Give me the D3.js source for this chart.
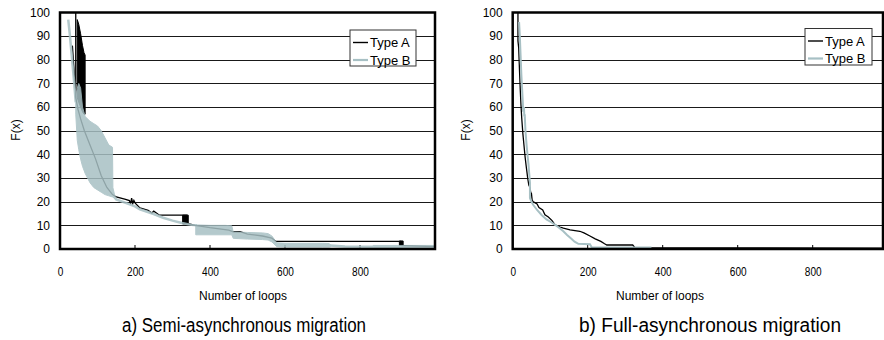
<!DOCTYPE html>
<html><head><meta charset="utf-8">
<script src="https://cdn.jsdelivr.net/npm/d3@7"></script>
<style>
html,body{margin:0;padding:0;background:#fff;}
svg{display:block;}
</style></head>
<body>
<svg id="chart" width="884" height="340"></svg>
<script>
// ---------- data ----------
const seriesNames = ["Type A", "Type B"];
const panelTitles = ["a) Semi-asynchronous migration", "b) Full-asynchronous migration"];
const xAxisTitle = "Number of loops";
const yAxisTitle = "F(x)";
const xTicks = [0, 200, 400, 600, 800];
const yTicks = [0, 10, 20, 30, 40, 50, 60, 70, 80, 90, 100];
const gridValues = [10, 20, 30, 40, 50, 60, 70, 80, 90];

// Semi-asynchronous: Type A polylines [x, F]
const semiALines = [
  [[33,86],[36,79],[39,72],[42,67]],
  [[42,100],[42,64],[48,59],[55,55],[65,50],[80,44],[95,38],[110,31],[125,26],[140,23],[150,22],[175,21],
   [185,20.5],[188,19],[191,21.5],[194,19.2],[197,20.5],[200,19.5],[213,17.4],[235,16.3],[245,15.2],[250,16],[258,15.1],[265,14.3],[340,14.3]],
  [[340,10.8],[360,10],[400,9],[450,8],[462,7.3],[480,7.3],[500,6.3],[540,5.5],[565,4.6],[576,3.2],[910,3.2]],
  [[910,1.4],[1000,1]]
];
// Semi-asynchronous: Type A oscillation bands [x, low, high]
const semiABands = [
  [[46,64,97],[50,62,95],[55,60,91],[60,58,86],[64,57,83],[67,57,82]],
  [[327,10.6,14.3],[342,10.6,14.3]],
  [[905,1.5,3.4],[915,1.5,3.4]]
];
// Semi-asynchronous: Type B polylines [x, F]
const semiBLines = [
  [[22,97],[26,91],[30,84],[34,77],[38,70],[42,62]],
  [[140,23],[150,21],[175,19.5],[200,18],[213,16.8],[250,14.8],[275,13.2],[300,12],[325,11],[350,10.2],[365,10]],
  [[720,1.5],[760,1.1],[835,0.9]]
];
// Semi-asynchronous: Type B oscillation bands [x, low, high]
const semiBBands = [
  [[42,57,62],[46,46,68],[50,42,70],[55,38,68],[60,35,60],[67,32,56],[80,28,54],[90,26,53],[100,25,52],
   [110,24,50],[120,23,47],[130,22.5,44],[140,22,43],[141,22,26],[146,21.3,22.5]],
  [[362,6,10.2],[400,6,10],[440,6,10],[458,6,9.8],[462,4.5,7.2],[500,4.2,7],[540,4,6.8],[555,3.8,6.5],
   [565,3,5.5],[578,1,2.6],[600,0.8,2.4],[700,0.8,2.4],[718,0.8,2.3],[722,1,1.6]],
  [[835,0.3,1.5],[1000,0.3,1.5]]
];

// Full-asynchronous: Type A [x, F]
const fullA = [[14,100],[14,88],[16,85],[18,76],[20,68],[22,61],[24,55.5],[27,49],[30,44],[33,39],[36,35],
  [40,30],[43,27],[46,26],[48,24],[50,23.5],[52,20.5],[55,20],[60,19.5],[65,19],[70,17.5],[80,16.5],[86,14.5],
  [95,13.5],[105,12],[113,10.2],[126,9.3],[135,8.8],[153,8.1],[179,7.5],[190,6.8],[206,5.5],[220,4.3],
  [235,3.2],[245,2.2],[251,1.7],[320,1.7],[326,0.6],[1000,0.4]];
// Full-asynchronous: Type B [x, F]
const fullB = [[17,96],[19,90],[21,82],[23,74],[25,68],[27,62],[28,58],[30,60],[31,56],[32,57],[34,50],
  [37,44],[40,39],[42,36],[44,32],[46,28],[46,21.5],[50,20],[55,18.6],[65,16.5],[77,14.4],[90,12.5],
  [104,11.2],[115,10],[122,9.2],[135,7.5],[145,5.9],[155,4.5],[165,3.1],[175,2.2],[206,2],[211,0.6],[370,0.6]];

// ---------- drawing ----------
const colA = "#000000";
const colB = "#a7c0c4";
const svg = d3.select("#chart");
const sans = "'Liberation Sans',Arial,sans-serif";

const panels = [
  {x0: 60, x1: 435, frameRight: 435, id: "a", titleX: 244, titleW: 244, axTitleX: 243, fxX: 17,
   legX: 350, legW: 66, legY: 30, legH: 36,
   aLines: semiALines, aBands: semiABands, bLines: semiBLines, bBands: semiBBands, bWidth: 2.5},
  {x0: 512.7, x1: 887.7, frameRight: 883, id: "b", titleX: 710, titleW: 262, axTitleX: 660, fxX: 467,
   legX: 805, legW: 67, legY: 28.5, legH: 36.5,
   aLines: [fullA], aBands: [], bLines: [fullB], bBands: [], bWidth: 2}
];
const yTop = 12.5, yBot = 249;

panels.forEach((p, i) => {
  const x = d3.scaleLinear().domain([0, 1000]).range([p.x0, p.x1]);
  const y = d3.scaleLinear().domain([0, 100]).range([yBot, yTop]);
  const g = svg.append("g");

  g.append("clipPath").attr("id", "clip" + p.id)
    .append("rect").attr("x", p.x0).attr("y", yTop).attr("width", p.frameRight - p.x0).attr("height", yBot - yTop);

  // grid
  g.selectAll("line.grid").data(gridValues).enter().append("line")
    .attr("x1", p.x0).attr("x2", p.frameRight)
    .attr("y1", d => Math.round(y(d)) + 0.5).attr("y2", d => Math.round(y(d)) + 0.5)
    .attr("stroke", "#1a1a1a").attr("stroke-width", 1);

  // small tick marks
  g.selectAll("line.tk").data(xTicks.slice(1)).enter().append("line")
    .attr("x1", d => x(d)).attr("x2", d => x(d)).attr("y1", yBot).attr("y2", yBot - 4)
    .attr("stroke", "#000").attr("stroke-width", 1);

  const data = g.append("g").attr("clip-path", `url(#clip${p.id})`);
  const line = d3.line().x(d => x(d[0])).y(d => y(d[1]));
  const area = d3.area().x(d => x(d[0])).y0(d => y(d[1])).y1(d => y(d[2]));

  // Type A
  p.aBands.forEach(b => data.append("path").attr("d", area(b)).attr("fill", colA).attr("stroke", colA).attr("stroke-width", 1));
  p.aLines.forEach(l => data.append("path").attr("d", line(l)).attr("fill", "none").attr("stroke", colA).attr("stroke-width", 1.3));
  // Type B
  const gb = data.append("g").attr("opacity", p.id === "a" ? 0.85 : 1);
  p.bBands.forEach(b => gb.append("path").attr("d", area(b)).attr("fill", colB).attr("stroke", colB).attr("stroke-width", 1));
  p.bLines.forEach(l => gb.append("path").attr("d", line(l)).attr("fill", "none").attr("stroke", colB).attr("stroke-width", p.bWidth));

  // frame
  g.append("rect").attr("x", p.x0).attr("y", yTop).attr("width", p.frameRight - p.x0).attr("height", yBot - yTop)
    .attr("fill", "none").attr("stroke", "#000").attr("stroke-width", 2.5);

  // axes
  const ya = g.append("g").attr("transform", `translate(${p.x0},0)`)
    .call(d3.axisLeft(y).tickValues(yTicks).tickSize(0).tickPadding(10));
  ya.select(".domain").remove();
  ya.selectAll("text").attr("font-family", sans).attr("font-size", 12).attr("fill", "#000");

  const xa = g.append("g").attr("transform", `translate(0,${yBot})`)
    .call(d3.axisBottom(x).tickValues(xTicks).tickSize(0).tickPadding(18));
  xa.select(".domain").remove();
  xa.selectAll("text").attr("font-family", sans).attr("font-size", 12).attr("fill", "#000")
    .attr("textLength", d => String(d).length * 5.6).attr("lengthAdjust", "spacingAndGlyphs");

  // axis titles
  g.append("text").attr("transform", `translate(${p.fxX},130) rotate(-90)`)
    .attr("text-anchor", "middle").attr("dominant-baseline", "middle")
    .attr("font-family", sans).attr("font-size", 12).text(yAxisTitle);
  g.append("text").attr("x", p.axTitleX).attr("y", 300).attr("text-anchor", "middle")
    .attr("font-family", sans).attr("font-size", 12)
    .attr("textLength", 88).attr("lengthAdjust", "spacingAndGlyphs").text(xAxisTitle);

  // panel title
  g.append("text").attr("x", p.titleX).attr("y", 332).attr("text-anchor", "middle")
    .attr("font-family", sans).attr("font-size", 20)
    .attr("textLength", p.titleW).attr("lengthAdjust", "spacingAndGlyphs").text(panelTitles[i]);

  // legend
  const lg = g.append("g");
  lg.append("rect").attr("x", p.legX).attr("y", p.legY).attr("width", p.legW).attr("height", p.legH)
    .attr("fill", "#fff").attr("stroke", "#333").attr("stroke-width", 1);
  [colA, colB].forEach((c, k) => {
    const yy = p.legY + 12.5 + k * 17.5;
    lg.append("line").attr("x1", p.legX + 3).attr("x2", p.legX + 18).attr("y1", yy).attr("y2", yy)
      .attr("stroke", c).attr("stroke-width", k === 0 ? 1.4 : 2.2);
    lg.append("text").attr("x", p.legX + 20).attr("y", yy + 4.5)
      .attr("font-family", sans).attr("font-size", 13).text(seriesNames[k]);
  });
});
</script>
</body></html>
